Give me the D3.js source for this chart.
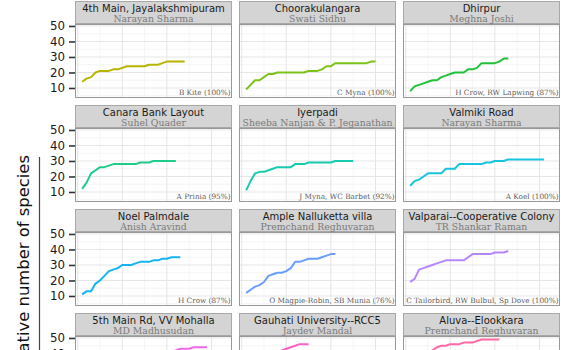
<!DOCTYPE html>
<html>
<head>
<meta charset="utf-8">
<script src="https://cdn.jsdelivr.net/npm/d3@7"></script>
<style>
  html, body { margin: 0; padding: 0; background: #ffffff; overflow: hidden; }
  svg { display: block; }
</style>
</head>
<body>
<div id="chart"></div>
<script>
// ---------------- data ----------------
const sites = [
  "4th Main, Jayalakshmipuram", "Choorakulangara", "Dhirpur",
  "Canara Bank Layout", "Iyerpadi", "Valmiki Road",
  "Noel Palmdale", "Ample Nalluketta villa", "Valparai--Cooperative Colony",
  "5th Main Rd, VV Mohalla", "Gauhati University--RCC5", "Aluva--Elookkara"
];
const observers = [
  "Narayan Sharma", "Swati Sidhu", "Meghna Joshi",
  "Suhel Quader", "Sheeba Nanjan & P. Jeganathan", "Narayan Sharma",
  "Anish Aravind", "Premchand Reghuvaran", "TR Shankar Raman",
  "MD Madhusudan", "Jaydev Mandal", "Premchand Reghuvaran"
];
const commonestSpecies = [
  "B Kite (100%)", "C Myna (100%)", "H Crow, RW Lapwing (87%)",
  "A Prinia (95%)", "J Myna, WC Barbet (92%)", "A Koel (100%)",
  "H Crow (87%)", "O Magpie-Robin, SB Munia (76%)", "C Tailorbird, RW Bulbul, Sp Dove (100%)",
  "", "", ""
];
// cumulative number of species, one value per list (x = 1, 2, 3, ...)
const jayalakshmipuram = [14,16,17,20,21,21,21,22,22,23,24,24,24,24,24,25,25,25,26,27,27,27,27,27];
const choorakulangara  = [9,12,15,15,17,19,19,20,20,20,20,20,20,20,21,21,21,22,24,24,26,26,26,26,26,26,26,26,27,27];
const dhirpur          = [8,11,12,13,14,15,15,17,18,19,20,20,20,22,22,23,26,26,26,26,27,29,29];
const canaraBank       = [12,16,22,24,26,26,27,28,28,28,28,28,28,29,29,29,30,30,30,30,30,30];
const iyerpadi         = [11,17,22,23,23,24,25,26,26,26,26,28,28,28,29,29,29,29,29,29,30,30,30,30,30];
const valmikiRoad      = [14,17,18,20,22,22,22,22,25,25,25,28,28,28,28,28,28,29,29,30,30,30,31,31,31,31,31,31,31,31,31];
const noelPalmdale     = [11,13,13,18,20,23,26,27,28,30,30,30,31,32,32,32,33,33,34,34,35,35,35];
const ampleNalluketta  = [12,14,16,17,19,23,24,25,25,26,28,32,32,33,34,34,34,35,36,37,37];
const valparai         = [19,21,27,28,29,30,31,32,33,33,33,33,33,35,37,37,37,37,37,38,38,38,39];
const vvMohalla        = [15,19,22,24,26,28,29,30,31,32,33,34,35,36,36,37,38,39,40,40,41,42,43,43,43,44,44,44,44];
const gauhati          = [12,18,24,29,33,36,39,41,42,43,44,45,46,46,46];
const aluva            = [20,28,33,37,40,42,44,45,45,46,46,46,47,47,47,48,49,49,49,49,49];
const seriesList = [jayalakshmipuram, choorakulangara, dhirpur, canaraBank, iyerpadi, valmikiRoad,
                    noelPalmdale, ampleNalluketta, valparai, vvMohalla, gauhati, aluva];
const yTicks = [10, 20, 30, 40, 50];
const yMinorTicks = [5, 15, 25, 35, 45];
const xTicks = [0, 10, 20, 30];
const xMinorTicks = [5, 15, 25];

// ---------------- styles ----------------
const lineColors = ["#B8B400", "#7CC317", "#22C13A", "#1FCB8B", "#18CBB0", "#17C4DF",
                    "#14B4F5", "#6A9DFF", "#B786FF", "#EE6AE9", "#FD61C9", "#FF69A6"];

const W = 570, H = 350;
const panelW = 157, panelH = 74, stripH = 23;
const colX0 = 75, colPitch = 163.8;
const rowY0 = 1, rowPitch = 104;

const svg = d3.select("#chart").append("svg")
  .attr("width", W).attr("height", H)
  .attr("viewBox", `0 0 ${W} ${H}`);

// scales (ggplot-like 5% expansion)
const xLo = 1, xHi = 33;
const xPad = (xHi - xLo) * 0.05;
const x = d3.scaleLinear().domain([xLo - xPad, xHi + xPad]).range([0, panelW]);
const yLo = 5.7, yHi = 49.1;
const yPad = (yHi - yLo) * 0.05;
const y = d3.scaleLinear().domain([yLo - yPad, yHi + yPad]).range([panelH, 0]);

const line = d3.line()
  .x((d, i) => x(i + 1))
  .y(d => y(d));

sites.forEach((site, k) => {
  const col = k % 3, row = Math.floor(k / 3);
  const px = Math.round(colX0 + col * colPitch);
  const sy = rowY0 + row * rowPitch;
  const py = sy + stripH;

  const g = svg.append("g").attr("transform", `translate(${px},${py})`);

  g.append("rect").attr("x", 0).attr("y", 0).attr("width", panelW).attr("height", panelH)
    .attr("fill", "#ffffff");

  g.selectAll(".ymin").data(yMinorTicks).enter().append("line")
    .attr("x1", 0).attr("x2", panelW)
    .attr("y1", d => y(d)).attr("y2", d => y(d))
    .attr("stroke", "#f2f2f2").attr("stroke-width", 0.8);
  g.selectAll(".xmin").data(xMinorTicks).enter().append("line")
    .attr("y1", 0).attr("y2", panelH)
    .attr("x1", d => x(d)).attr("x2", d => x(d))
    .attr("stroke", "#f2f2f2").attr("stroke-width", 0.8);
  g.selectAll(".ymaj").data(yTicks).enter().append("line")
    .attr("x1", 0).attr("x2", panelW)
    .attr("y1", d => y(d)).attr("y2", d => y(d))
    .attr("stroke", "#e6e6e6").attr("stroke-width", 1);
  g.selectAll(".xmaj").data(xTicks).enter().append("line")
    .attr("y1", 0).attr("y2", panelH)
    .attr("x1", d => x(d)).attr("x2", d => x(d))
    .attr("stroke", "#e6e6e6").attr("stroke-width", 1);

  g.append("path").datum(seriesList[k])
    .attr("d", line)
    .attr("fill", "none")
    .attr("stroke", lineColors[k])
    .attr("stroke-width", 2)
    .attr("stroke-linejoin", "round")
    .attr("stroke-linecap", "butt");

  if (commonestSpecies[k]) {
    g.append("text")
      .attr("x", panelW - 1.5).attr("y", panelH - 3.5)
      .attr("text-anchor", "end")
      .attr("font-family", "DejaVu Serif")
      .attr("font-size", 7.3)
      .attr("fill", "#5a5a5a")
      .text(commonestSpecies[k]);
  }

  g.append("rect").attr("x", 0.5).attr("y", 0.5).attr("width", panelW - 1).attr("height", panelH - 1)
    .attr("fill", "none").attr("stroke", "#999999").attr("stroke-width", 1);

  const s = svg.append("g").attr("transform", `translate(${px},${sy})`);
  s.append("rect").attr("x", 0.5).attr("y", 0.5).attr("width", panelW - 1).attr("height", stripH - 1)
    .attr("fill", "#d4d4d4").attr("stroke", "#a8a8a8").attr("stroke-width", 1);
  s.append("text").attr("x", panelW / 2).attr("y", 11.2)
    .attr("text-anchor", "middle")
    .attr("font-family", "DejaVu Sans").attr("font-size", 10)
    .attr("fill", "#1a1a1a")
    .text(site);
  s.append("text").attr("x", panelW / 2).attr("y", 20.8)
    .attr("text-anchor", "middle")
    .attr("font-family", "DejaVu Serif").attr("font-size", 9.3)
    .attr("fill", "#7a7a7a")
    .text(observers[k]);

  if (col === 0) {
    const ax = svg.append("g").attr("transform", `translate(${px},${py})`);
    const axis = d3.axisLeft(y).tickValues(yTicks).tickSize(6).tickPadding(4).tickFormat(d3.format("d"));
    ax.call(axis);
    ax.select(".domain").remove();
    ax.selectAll(".tick line").attr("stroke", "#333333").attr("stroke-width", 1.6);
    ax.selectAll(".tick text")
      .attr("font-family", "DejaVu Sans").attr("font-size", 11.8)
      .attr("fill", "#1a1a1a");
  }
});

svg.append("text")
  .attr("transform", "translate(29,155) rotate(-90)")
  .attr("text-anchor", "end")
  .attr("font-family", "DejaVu Sans").attr("font-size", 16.4)
  .attr("fill", "#111111")
  .text("Cumulative number of species");

svg.append("line")
  .attr("x1", 39.5).attr("x2", 39.5).attr("y1", 157).attr("y2", H)
  .attr("stroke", "#444444").attr("stroke-width", 1.2);
</script>
</body>
</html>
